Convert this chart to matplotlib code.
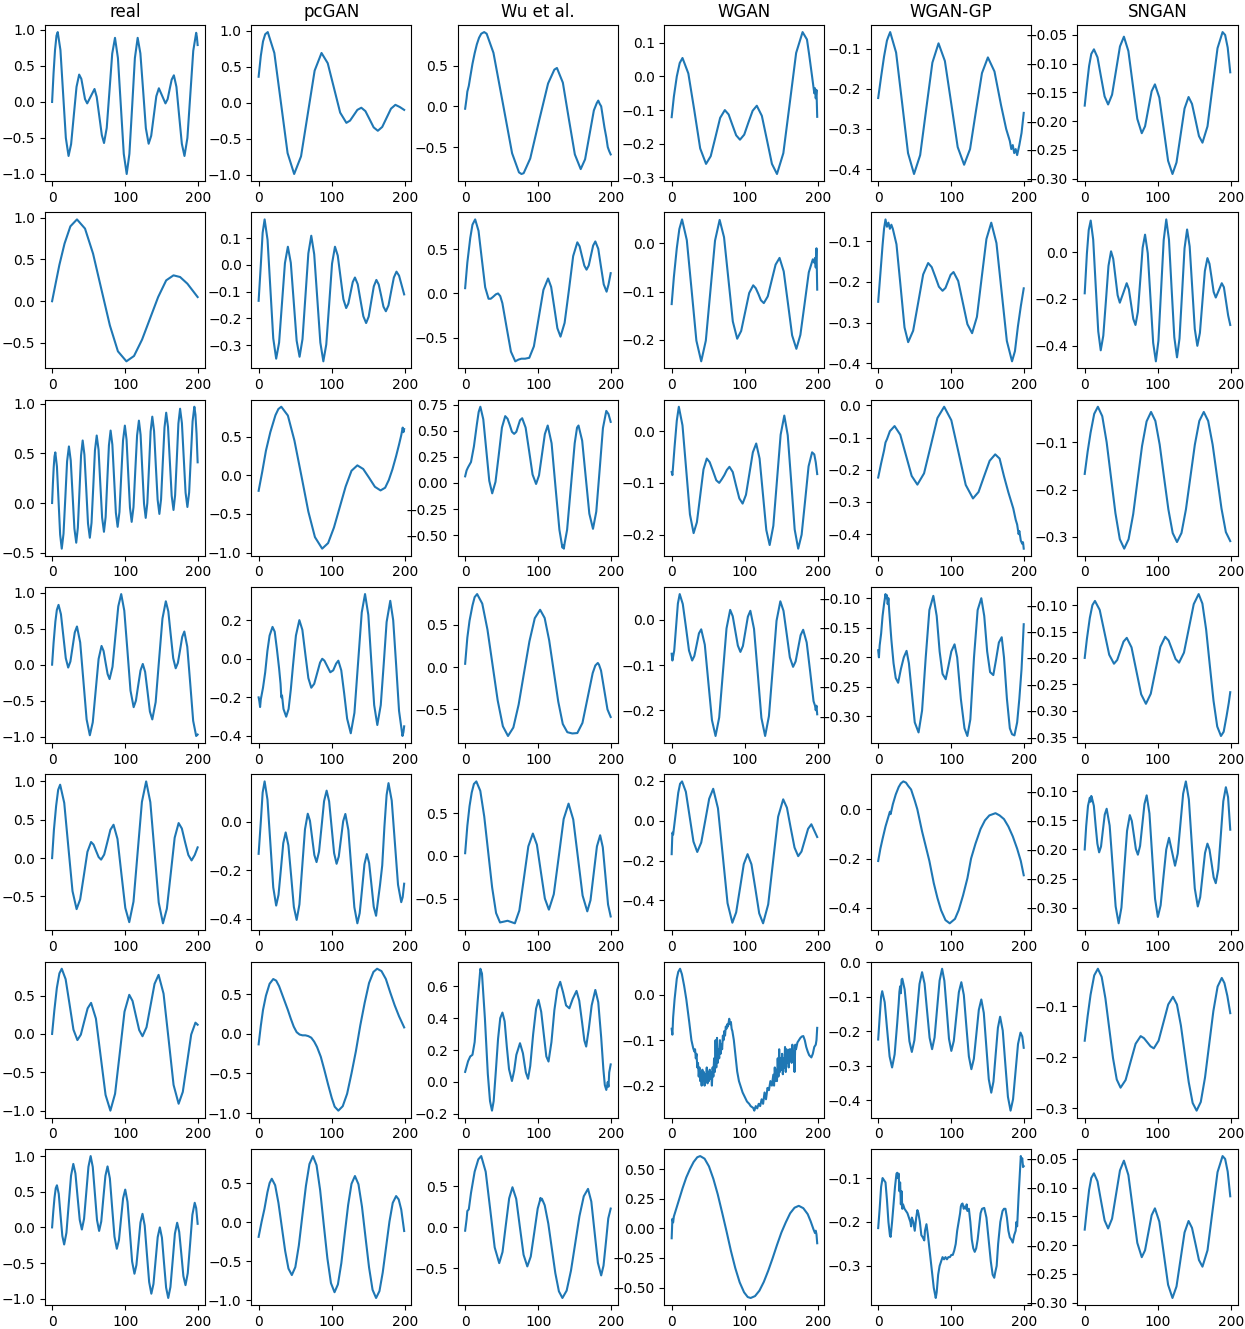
import matplotlib
matplotlib.use("Agg")
import matplotlib.pyplot as plt
from matplotlib.ticker import MaxNLocator

# (x, y) points; rows 1..7, one list per column
real1 = [(0,0.0),(2,0.40),(4,0.72),(6,0.92),(7.7,0.97),(11.4,0.72),(15.1,0.11),(18.8,-0.50),(22.5,-0.75),(26,-0.585),(29.7,-0.185),(33.4,0.21),(37,0.38),(40,0.32),(42.5,0.18),(45,0.04),(48,-0.02),(53,0.08),(58,0.18),(61,0.07),(64.5,-0.195),(68,-0.46),(71,-0.57),(74.7,-0.36),(78.5,0.16),(82.2,0.67),(86,0.89),(90,0.61),(94,-0.055),(98,-0.72),(102,-1.0),(105.7,-0.72),(109.5,-0.055),(113.2,0.61),(117,0.89),(120.7,0.675),(124.5,0.155),(128.2,-0.365),(132,-0.58),(135.5,-0.47),(139,-0.195),(142.5,0.08),(146,0.19),(150.5,0.085),(155,-0.02),(158,0.04),(160.7,0.175),(163.5,0.31),(166.5,0.37),(170,0.21),(173.7,-0.19),(177.4,-0.58),(181,-0.75),(185,-0.50),(189,0.105),(193,0.71),(197,0.96),(198,0.9),(199,0.79)]
pcgan1 = [(0,0.36),(3,0.65),(6,0.85),(9,0.95),(12.5,0.98),(21.5,0.69),(30.5,0.0),(39.6,-0.70),(48.6,-0.99),(58,-0.745),(67.3,-0.15),(76.6,0.445),(86,0.69),(94.5,0.548),(103,0.205),(111.5,-0.138),(120,-0.28),(125,-0.249),(130,-0.175),(135,-0.10),(140.4,-0.07),(146,-0.117),(151.7,-0.23),(157.3,-0.343),(163,-0.39),(169,-0.337),(175,-0.21),(181,-0.083),(187,-0.03),(193,-0.06),(199,-0.10)]
wu1 = [(0,-0.03),(2,0.1),(3,0.18),(5,0.25),(7,0.36),(10,0.52),(13,0.65),(16,0.76),(19,0.84),(22,0.89),(26,0.91),(29.4,0.89),(38.7,0.656),(51.5,0.04),(64.2,-0.576),(73.6,-0.81),(77,-0.83),(80,-0.82),(89,-0.64),(101,-0.18),(113.4,0.28),(122,0.45),(125.5,0.47),(133.6,0.29),(141.7,-0.15),(150,-0.59),(158,-0.77),(164,-0.65),(170,-0.35),(176,-0.05),(180,0.04),(182,0.07),(184,0.03),(186,0.0),(190.5,-0.26),(193,-0.38),(195,-0.50),(197,-0.55),(199,-0.59)]
wgan1 = [(0,-0.121),(3,-0.06),(7,0.0),(11,0.04),(14.8,0.055),(22.8,0.009),(30.9,-0.10),(39,-0.214),(47,-0.26),(53.4,-0.237),(59.9,-0.18),(66.3,-0.123),(72.7,-0.10),(77.9,-0.113),(83,-0.144),(88.2,-0.175),(93.4,-0.188),(99.2,-0.173),(104.9,-0.137),(110.7,-0.102),(116.4,-0.087),(123.3,-0.117),(130.2,-0.188),(137.1,-0.26),(144,-0.29),(152.7,-0.228),(161.5,-0.079),(170.2,0.07),(179,0.132),(185,0.11),(188,0.065),(192,0.0),(195,-0.05),(196,-0.035),(197,-0.065),(198,-0.04),(199,-0.12)]
wgangp1 = [(0,-0.223),(4,-0.17),(8,-0.12),(10,-0.10),(12,-0.08),(14,-0.07),(16.4,-0.059),(24.5,-0.11),(32.7,-0.235),(40.8,-0.36),(49,-0.412),(57.4,-0.365),(65.7,-0.25),(74.1,-0.135),(82.5,-0.087),(91.2,-0.131),(100,-0.238),(108.7,-0.345),(117.5,-0.389),(125.6,-0.35),(133.7,-0.255),(141.9,-0.161),(150,-0.122),(159,-0.157),(168,-0.241),(175,-0.30),(180,-0.33),(182,-0.35),(184,-0.34),(186,-0.36),(188,-0.35),(190,-0.365),(193,-0.34),(196,-0.31),(199,-0.26)]
sngan1 = [(0,-0.173),(3,-0.137),(6,-0.104),(9,-0.083),(12.6,-0.075),(17.5,-0.089),(22.3,-0.123),(27.2,-0.157),(32,-0.171),(37.4,-0.154),(42.8,-0.112),(48.2,-0.07),(53.6,-0.053),(59.7,-0.078),(65.8,-0.137),(71.9,-0.196),(78,-0.221),(82.5,-0.209),(87,-0.1785),(91.5,-0.148),(96,-0.136),(102,-0.159),(108,-0.214),(114,-0.269),(120,-0.292),(125.5,-0.272),(131,-0.225),(136.5,-0.178),(142,-0.158),(146.7,-0.17),(151.5,-0.198),(156.2,-0.226),(161,-0.2375),(167.9,-0.209),(174.7,-0.141),(181.6,-0.073),(188.5,-0.045),(192,-0.05),(195.5,-0.072),(199,-0.115)]

real2 = [(0,0.0),(5,0.22),(10,0.437),(17,0.69),(25,0.897),(34,0.98),(45,0.87),(56,0.57),(68,0.12),(79,-0.29),(90,-0.60),(101.6,-0.72),(112,-0.656),(123,-0.46),(134,-0.205),(145,0.05),(156,0.25),(166,0.31),(175,0.29),(185,0.21),(192,0.13),(199,0.05)]
pcgan2 = [(0,-0.134),(3,0.0),(5.5,0.12),(8.2,0.17),(12.2,0.094),(16.1,-0.09),(20,-0.274),(24,-0.35),(28,-0.29),(32,-0.141),(36,0.007),(40,0.068),(44,0.008),(48,-0.137),(52,-0.283),(56,-0.343),(60,-0.277),(64,-0.117),(68,0.043),(72,0.109),(76,0.04),(80.2,-0.125),(84.4,-0.29),(88.5,-0.36),(92.5,-0.297),(96.5,-0.146),(100.4,0.005),(104.4,0.068),(108.2,0.035),(112,-0.046),(115.9,-0.128),(119.7,-0.161),(122.7,-0.144),(125.7,-0.104),(128.7,-0.064),(131.7,-0.047),(135.5,-0.072),(139.3,-0.132),(143.2,-0.192),(147,-0.217),(150.5,-0.193),(154,-0.136),(157.5,-0.08),(161,-0.056),(164.2,-0.073),(167.5,-0.114),(170.7,-0.156),(174,-0.173),(177.6,-0.151),(181.2,-0.099),(184.9,-0.047),(188.5,-0.025),(192,-0.04),(196,-0.08),(199,-0.11)]
wu2 = [(0,0.06),(3,0.35),(7,0.63),(10,0.78),(13.7,0.84),(18.3,0.71),(22.8,0.39),(27.4,0.07),(32,-0.06),(35,-0.06),(38,-0.04),(42,-0.01),(45,0.0),(48,-0.03),(50.9,-0.11),(56.7,-0.385),(62.6,-0.66),(68.5,-0.77),(73,-0.75),(77,-0.74),(82,-0.74),(87.7,-0.73),(94,-0.60),(100.5,-0.28),(107,0.04),(113.4,0.17),(117.6,0.074),(121.9,-0.16),(126.1,-0.394),(130.4,-0.49),(136,-0.334),(142,0.045),(147.7,0.424),(153.4,0.58),(156.5,0.535),(159.7,0.425),(163,0.315),(166,0.27),(169,0.317),(172,0.43),(175,0.543),(178,0.59),(182,0.507),(185.7,0.305),(189.5,0.103),(193.4,0.02),(196,0.10),(199,0.23)]
wgan2 = [(0,-0.126),(3,-0.07),(7,-0.01),(10.5,0.03),(14.2,0.05),(20.7,0.007),(27.3,-0.0975),(33.8,-0.202),(40.4,-0.245),(46.7,-0.202),(53,-0.098),(59.3,0.006),(65.6,0.049),(71.6,0.013),(77.6,-0.0745),(83.6,-0.162),(89.6,-0.198),(95,-0.182),(100.5,-0.1425),(106,-0.103),(111.5,-0.087),(115,-0.093),(118.7,-0.1055),(122,-0.118),(126,-0.124),(131.4,-0.11),(136.7,-0.077),(142.1,-0.044),(147.5,-0.03),(153.2,-0.058),(159,-0.1245),(164.7,-0.191),(170.5,-0.219),(176,-0.19),(181.7,-0.126),(187.5,-0.06),(193,-0.033),(195,-0.04),(196,-0.03),(197,-0.05),(198,-0.01),(199,-0.096)]
wgangp2 = [(0,-0.249),(3,-0.18),(6,-0.11),(8,-0.07),(10,-0.047),(12,-0.065),(14,-0.055),(16,-0.07),(18,-0.06),(20,-0.07),(25,-0.108),(30.5,-0.209),(36,-0.312),(41,-0.348),(47.8,-0.32),(54.7,-0.251),(61.5,-0.182),(68.3,-0.154),(73.2,-0.164),(78.2,-0.188),(83,-0.212),(88,-0.222),(92,-0.215),(95.5,-0.199),(99,-0.183),(103,-0.176),(109.4,-0.198),(115.7,-0.251),(122,-0.304),(128.4,-0.326),(135,-0.286),(141.5,-0.19),(148,-0.095),(154.6,-0.055),(161.7,-0.105),(168.8,-0.225),(175.9,-0.345),(183,-0.395),(187,-0.37),(191,-0.31),(195,-0.26),(199,-0.216)]
sngan2 = [(0,-0.176),(3,-0.006),(5.5,0.094),(8.2,0.134),(11.6,0.053),(15,-0.142),(18.5,-0.338),(21.9,-0.419),(25.4,-0.357),(29,-0.208),(32.5,-0.059),(36,0.003),(39,-0.029),(42,-0.1065),(45,-0.184),(48,-0.216),(52.7,-0.175),(57.4,-0.133),(60.4,-0.159),(63.4,-0.222),(66.4,-0.285),(69.4,-0.311),(72.7,-0.255),(76,-0.118),(79.2,0.018),(82.5,0.074),(86.2,-0.005),(89.9,-0.196),(93.6,-0.387),(97.3,-0.466),(100.8,-0.378),(104.4,-0.1635),(108,0.051),(111.5,0.139),(115.2,0.053),(118.8,-0.155),(122.5,-0.363),(126.2,-0.449),(129.6,-0.369),(133.1,-0.1765),(136.5,0.016),(140,0.096),(143.5,0.024),(147,-0.152),(150.5,-0.328),(154,-0.40),(157.5,-0.345),(160.9,-0.213),(164.3,-0.081),(167.8,-0.026),(170.6,-0.05),(173.5,-0.11),(176.3,-0.17),(179.2,-0.194),(183.3,-0.1635),(187.4,-0.133),(190.3,-0.15),(193.2,-0.21),(196.1,-0.27),(199,-0.311)]

real3 = [(0,0.0),(1.1,0.195),(2.2,0.36),(3.3,0.47),(4.4,0.51),(6.6,0.368),(8.8,0.025),(11,-0.318),(13.2,-0.46),(15.6,-0.31),(18.1,0.055),(20.5,0.42),(23,0.57),(25.5,0.428),(28,0.085),(30.5,-0.258),(33,-0.40),(35.2,-0.25),(37.4,0.115),(39.6,0.48),(41.8,0.63),(44.2,0.487),(46.7,0.14),(49.1,-0.207),(51.6,-0.35),(53.9,-0.2),(56.3,0.165),(58.6,0.53),(61,0.68),(63.5,0.538),(65.9,0.195),(68.4,-0.148),(70.9,-0.29),(73.2,-0.141),(75.4,0.22),(77.7,0.581),(80,0.73),(82.4,0.588),(84.8,0.245),(87.2,-0.098),(89.6,-0.24),(92.1,-0.091),(94.5,0.27),(97,0.631),(99.5,0.78),(101.8,0.638),(104.1,0.295),(106.5,-0.048),(108.8,-0.19),(111.3,-0.041),(113.7,0.32),(116.2,0.681),(118.7,0.83),(121,0.687),(123.3,0.34),(125.7,-0.007),(128,-0.15),(130.2,-0.001),(132.5,0.36),(134.7,0.721),(137,0.87),(139.4,0.727),(141.8,0.38),(144.3,0.033),(146.7,-0.11),(149,0.039),(151.3,0.40),(153.7,0.761),(156,0.91),(158.5,0.767),(161,0.42),(163.5,0.073),(166,-0.07),(168.2,0.079),(170.5,0.44),(172.7,0.801),(175,0.95),(177.5,0.805),(180,0.455),(182.5,0.105),(185,-0.04),(187.4,0.107),(189.7,0.465),(192.1,0.823),(194.5,0.97),(196,0.89),(197.5,0.70),(199,0.41)]
pcgan3 = [(0,-0.2),(5,0.05),(10,0.32),(16,0.56),(23,0.78),(27,0.86),(31,0.89),(40,0.776),(49,0.45),(59,-0.03),(68,-0.47),(77,-0.80),(86.9,-0.95),(95,-0.878),(103,-0.676),(111,-0.41),(119,-0.144),(127,0.06),(135,0.13),(143,0.083),(151,-0.03),(159,-0.148),(166.7,-0.195),(173,-0.16),(178,-0.06),(183,0.08),(188,0.25),(192,0.40),(195,0.52),(197,0.62),(198,0.56),(199,0.6)]
wu3 = [(0,0.063),(2,0.12),(4,0.15),(8,0.2),(12,0.35),(16,0.56),(18.5,0.68),(20.8,0.73),(24.8,0.61),(28.9,0.315),(33,0.02),(37,-0.10),(41.5,0.01),(46,0.27),(50.3,0.53),(54.8,0.64),(58,0.615),(61,0.555),(64,0.49),(67,0.47),(70,0.49),(72.5,0.545),(75,0.60),(78,0.62),(82.7,0.53),(87.5,0.305),(92.2,0.08),(97,-0.01),(101,0.072),(105,0.27),(109,0.468),(112.9,0.55),(118.2,0.38),(123.5,-0.035),(128.9,-0.45),(132,-0.58),(133,-0.62),(134.2,-0.6),(135,-0.63),(136,-0.58),(139.4,-0.45),(144.6,-0.035),(149.8,0.38),(153,0.53),(155,0.55),(160,0.405),(164.9,0.055),(169.8,-0.295),(174.8,-0.44),(179.3,-0.275),(183.9,0.125),(188.4,0.525),(193,0.69),(196,0.66),(199,0.585)]
wgan3 = [(0,-0.079),(1,-0.085),(4,-0.03),(7,0.02),(9.8,0.047),(14.8,0.011),(19.9,-0.075),(25,-0.161),(30,-0.197),(34.5,-0.176),(39,-0.125),(43.5,-0.074),(48,-0.053),(52,-0.06),(56.5,-0.077),(61,-0.095),(65,-0.10),(68.5,-0.093),(72,-0.085),(75.5,-0.075),(79,-0.069),(83.5,-0.079),(88,-0.105),(92.5,-0.13),(97,-0.14),(101.6,-0.123),(106.3,-0.082),(111,-0.041),(115.6,-0.024),(120.2,-0.053),(124.8,-0.122),(129.4,-0.191),(134,-0.22),(139,-0.183),(144,-0.095),(149,-0.007),(154,0.03),(158.7,-0.008),(163.5,-0.0985),(168.2,-0.19),(173,-0.227),(177.7,-0.2),(182.5,-0.134),(187.2,-0.068),(192,-0.041),(195,-0.045),(197,-0.06),(199,-0.083)]
wgangp3 = [(0,-0.224),(4,-0.18),(8,-0.14),(10,-0.115),(12,-0.105),(16,-0.08),(22.4,-0.064),(30.2,-0.091),(38,-0.155),(45.8,-0.219),(53.6,-0.246),(62.7,-0.211),(71.9,-0.125),(81,-0.039),(90.2,-0.004),(100,-0.046),(109.9,-0.1465),(119.7,-0.247),(129.6,-0.289),(137.2,-0.269),(144.8,-0.22),(152.4,-0.172),(160,-0.152),(166,-0.165),(172,-0.22),(178,-0.27),(184.7,-0.32),(188,-0.355),(190,-0.37),(192,-0.40),(193,-0.39),(195,-0.42),(197,-0.43),(198,-0.425),(199,-0.445)]
sngan3 = [(0,-0.167),(4,-0.12),(8,-0.08),(13,-0.04),(18,-0.025),(24,-0.045),(30,-0.1),(36,-0.175),(42,-0.25),(48,-0.305),(54,-0.325),(60,-0.305),(66.3,-0.252),(72.3,-0.18),(78.4,-0.108),(84.6,-0.056),(90.7,-0.036),(96.6,-0.055),(102.5,-0.105),(108.4,-0.1735),(114.4,-0.242),(120.3,-0.292),(126.2,-0.311),(132.3,-0.292),(138.4,-0.242),(144.5,-0.1735),(150.6,-0.105),(156.7,-0.055),(162.8,-0.036),(168.8,-0.055),(174.9,-0.105),(180.9,-0.172),(187,-0.24),(193,-0.29),(199,-0.309)]

real4 = [(0,0.0),(2,0.3),(4.5,0.6),(6.5,0.76),(8.8,0.83),(12.1,0.70),(15.4,0.395),(18.7,0.09),(22,-0.04),(25,0.043),(28,0.245),(31,0.447),(34,0.53),(38.4,0.31),(42.8,-0.225),(47.2,-0.76),(51.6,-0.98),(55.6,-0.80),(59.6,-0.36),(63.6,0.08),(67.6,0.26),(70.4,0.19),(73.1,0.03),(75.9,-0.13),(78.6,-0.2),(82.6,-0.03),(86.5,0.39),(90.5,0.81),(94.5,0.98),(98.7,0.75),(103,0.195),(107.2,-0.36),(111.5,-0.59),(114.6,-0.50),(117.7,-0.29),(120.9,-0.08),(124,0.01),(127.2,-0.10),(130.5,-0.375),(133.7,-0.65),(137,-0.76),(141.6,-0.52),(146.2,0.06),(150.9,0.64),(155.5,0.88),(158.9,0.74),(162.2,0.415),(165.6,0.09),(169,-0.05),(172,0.025),(175,0.205),(177.9,0.385),(180.8,0.46),(184.8,0.25),(188.9,-0.265),(192.9,-0.78),(197,-0.99),(199,-0.97)]
pcgan4 = [(0,-0.2),(1,-0.22),(2,-0.25),(3,-0.21),(6,-0.15),(9,-0.07),(12,0.04),(15,0.12),(19,0.165),(22,0.14),(25,0.05),(28,-0.05),(30,-0.13),(31,-0.2),(32,-0.19),(34,-0.26),(37.7,-0.30),(41,-0.26),(44,-0.16),(47,-0.035),(51,0.12),(55.7,0.20),(59.8,0.15),(64,0.02),(68,-0.10),(72,-0.15),(76,-0.13),(80,-0.075),(84,-0.02),(87,0.0),(90,-0.01),(94,-0.04),(98,-0.07),(102,-0.06),(106,-0.025),(109,-0.01),(113,-0.06),(117,-0.18),(121,-0.31),(126,-0.386),(131,-0.28),(136,-0.02),(141,0.24),(145.5,0.335),(150,0.227),(154,-0.01),(158,-0.24),(162.3,-0.343),(167,-0.24),(171,-0.03),(175,0.19),(180,0.30),(184,0.2),(188,-0.03),(192,-0.27),(196.7,-0.40),(198,-0.38),(199,-0.35)]
wu4 = [(0,0.04),(3,0.35),(6,0.55),(10,0.73),(13,0.83),(16.4,0.866),(23.4,0.753),(30.5,0.446),(37.5,0.026),(44.5,-0.394),(51.6,-0.70),(58.6,-0.815),(65.9,-0.715),(73.2,-0.441),(80.5,-0.067),(87.9,0.306),(95.2,0.58),(102.5,0.68),(108.7,0.583),(114.9,0.318),(121.1,-0.045),(127.3,-0.408),(133.5,-0.673),(139.7,-0.77),(146.5,-0.785),(153.4,-0.78),(160.4,-0.66),(167.4,-0.365),(174.4,-0.07),(178,0.02),(181.4,0.05),(183,0.03),(185.8,-0.04),(190.2,-0.27),(194.6,-0.5),(197,-0.55),(199,-0.59)]
wgan4 = [(0,-0.075),(1,-0.09),(3.5,-0.068),(6,-0.016),(8.5,0.036),(11,0.057),(15.2,0.035),(19.5,-0.016),(23.7,-0.068),(28,-0.09),(31,-0.08),(34.2,-0.055),(37.3,-0.03),(40.4,-0.021),(45.3,-0.055),(50.2,-0.139),(55.1,-0.222),(60,-0.257),(65,-0.216),(70,-0.1175),(75,-0.019),(80,0.022),(83.5,0.008),(87,-0.0245),(90.5,-0.057),(94,-0.071),(97.4,-0.058),(100.8,-0.0255),(104.2,0.007),(107.6,0.02),(112.6,-0.02),(117.7,-0.1185),(122.7,-0.217),(127.8,-0.257),(133,-0.213),(138.2,-0.108),(143.4,-0.002),(148.6,0.041),(152.9,0.02),(157.3,-0.0315),(161.6,-0.083),(166,-0.104),(169.5,-0.092),(172.9,-0.063),(176.3,-0.034),(179.8,-0.022),(184.6,-0.05),(189.4,-0.115),(194,-0.18),(196,-0.19),(197,-0.20),(198,-0.19),(199,-0.209)]
wgangp4 = [(0,-0.188),(1,-0.2),(2,-0.18),(4,-0.16),(6,-0.13),(8,-0.11),(10,-0.093),(11,-0.1),(12,-0.095),(13,-0.11),(14,-0.1),(15,-0.12),(18,-0.17),(21,-0.21),(24,-0.235),(27.3,-0.243),(31,-0.22),(35,-0.2),(38.8,-0.189),(42,-0.21),(46,-0.26),(50,-0.31),(55.2,-0.327),(60,-0.29),(65,-0.2),(70,-0.12),(75.4,-0.096),(80,-0.13),(84,-0.19),(88,-0.228),(92.3,-0.237),(96,-0.215),(100,-0.19),(104.4,-0.178),(108,-0.2),(113,-0.27),(118,-0.32),(121.9,-0.333),(126,-0.305),(131,-0.2),(136,-0.12),(141,-0.10),(145,-0.13),(149,-0.19),(153,-0.225),(157.4,-0.23),(161,-0.205),(165,-0.175),(168.9,-0.166),(172,-0.2),(176,-0.27),(180,-0.32),(183,-0.33),(186.3,-0.332),(190,-0.31),(193,-0.27),(196,-0.22),(198,-0.17),(199,-0.144)]
sngan4 = [(0,-0.2),(3,-0.164),(7,-0.124),(10.5,-0.1),(14,-0.092),(20.5,-0.109),(27,-0.1515),(33.5,-0.194),(40,-0.211),(44.4,-0.204),(48.7,-0.1865),(53.1,-0.169),(57.5,-0.162),(64,-0.18),(70.6,-0.2245),(77.2,-0.269),(83.7,-0.287),(90.3,-0.268),(96.8,-0.2235),(103.4,-0.179),(110,-0.16),(114.7,-0.167),(119.5,-0.1845),(124.2,-0.202),(129,-0.209),(135.7,-0.19),(142.4,-0.144),(149.1,-0.098),(155.8,-0.079),(160.9,-0.097),(166,-0.146),(171,-0.2135),(176.1,-0.281),(181.2,-0.33),(186.3,-0.348),(190,-0.34),(194,-0.31),(197,-0.285),(199,-0.265)]

real5 = [(0,0.0),(2.5,0.37),(5.5,0.68),(8.3,0.89),(11,0.957),(16.6,0.72),(22.2,0.146),(27.9,-0.43),(33.5,-0.665),(38.4,-0.537),(43.4,-0.2275),(48.3,0.082),(53.3,0.21),(56.7,0.176),(60.1,0.095),(63.6,0.014),(67,-0.02),(71.2,0.046),(75.5,0.2075),(79.7,0.369),(84,0.435),(89.4,0.25),(94.7,-0.2),(100.1,-0.65),(105.5,-0.835),(111.3,-0.567),(117,0.08),(122.8,0.732),(128.6,1.0),(134.3,0.73),(140.1,0.075),(145.8,-0.58),(151.6,-0.85),(156.9,-0.66),(162.3,-0.196),(167.6,0.266),(173,0.457),(177.4,0.386),(181.8,0.21),(186.3,0.041),(190.7,-0.03),(195,0.04),(199,0.14)]
pcgan5 = [(0,-0.132),(3,0.0),(5.5,0.12),(8.2,0.166),(12.1,0.091),(16.1,-0.09),(20,-0.27),(24,-0.345),(27.2,-0.301),(30.5,-0.1945),(33.7,-0.088),(37,-0.044),(40.7,-0.097),(44.5,-0.224),(48.2,-0.351),(52,-0.404),(55.8,-0.34),(59.6,-0.1855),(63.4,-0.031),(67.2,0.033),(70.2,0.004),(73.2,-0.0665),(76.2,-0.137),(79.2,-0.166),(82.6,-0.123),(86.1,-0.019),(89.5,0.085),(93,0.128),(96.4,0.084),(99.8,-0.0225),(103.2,-0.129),(106.6,-0.173),(109.6,-0.143),(112.6,-0.0705),(115.6,0.002),(118.6,0.032),(122.7,-0.034),(126.8,-0.193),(130.9,-0.352),(135,-0.418),(138.2,-0.376),(141.5,-0.2755),(144.7,-0.175),(148,-0.133),(151.1,-0.17),(154.3,-0.26),(157.4,-0.35),(160.6,-0.387),(163,-0.33),(166,-0.26),(169,-0.18),(172,-0.02),(175,0.11),(177.6,0.159),(182,0.087),(186.3,-0.086),(190.6,-0.259),(195,-0.331),(197,-0.31),(199,-0.255)]
wu5 = [(0,0.03),(3,0.35),(6,0.58),(9,0.74),(12,0.84),(15.3,0.87),(20.7,0.76),(26.1,0.46),(31.5,0.045),(36.9,-0.37),(42.3,-0.67),(47.7,-0.78),(53,-0.77),(58,-0.76),(63,-0.775),(68,-0.79),(74.1,-0.64),(80.3,-0.265),(86.4,0.11),(92.6,0.26),(98.1,0.13),(103.5,-0.185),(109,-0.5),(114.5,-0.63),(121.2,-0.45),(128,-0.01),(134.7,0.43),(141.4,0.61),(147.8,0.425),(154.2,-0.02),(160.6,-0.465),(167,-0.65),(171.4,-0.52),(175.8,-0.205),(180.2,0.11),(184.6,0.24),(188.2,0.1),(191.8,-0.235),(195.4,-0.57),(199,-0.71)]
wgan5 = [(0,-0.168),(1,-0.06),(2,-0.07),(5,0.02),(9,0.14),(11.5,0.185),(14.2,0.197),(19.4,0.145),(24.6,0.02),(29.8,-0.105),(35,-0.157),(40.4,-0.11),(45.9,0.0),(51.3,0.11),(56.8,0.16),(63.3,0.062),(69.9,-0.176),(76.4,-0.414),(83,-0.512),(88.2,-0.46),(93.4,-0.34),(98.6,-0.218),(103.8,-0.168),(109.1,-0.219),(114.4,-0.34),(119.7,-0.465),(125,-0.515),(132,-0.42),(138.8,-0.20),(145.6,0.02),(152.5,0.107),(157.6,0.065),(162.7,-0.035),(168,-0.135),(173,-0.178),(177.5,-0.155),(182,-0.098),(186.5,-0.041),(191,-0.018),(195,-0.05),(199,-0.082)]
wgangp5 = [(0,-0.21),(3,-0.16),(6,-0.12),(10,-0.07),(14,-0.03),(16,-0.01),(17,-0.02),(20,0.02),(24,0.06),(28,0.09),(31,0.105),(34.4,0.113),(38,0.108),(41,0.095),(45,0.08),(50,0.035),(53.5,0.0),(60,-0.09),(65,-0.15),(70,-0.21),(76,-0.30),(81,-0.36),(86,-0.41),(92,-0.45),(97.8,-0.463),(105,-0.445),(110,-0.41),(116,-0.35),(122,-0.28),(127,-0.2),(133,-0.14),(140,-0.08),(146,-0.045),(152,-0.025),(160.4,-0.016),(166,-0.025),(172,-0.04),(178,-0.07),(184,-0.11),(190,-0.16),(195,-0.21),(199,-0.268)]
sngan5 = [(0,-0.2),(2,-0.16),(4.5,-0.125),(7,-0.111),(8,-0.118),(9,-0.108),(10,-0.112),(12.5,-0.125),(15,-0.16),(17.3,-0.19),(19.7,-0.205),(22.3,-0.195),(24.8,-0.1675),(27.4,-0.14),(30,-0.13),(34.1,-0.159),(38.2,-0.2285),(42.3,-0.298),(46.4,-0.327),(50.2,-0.3),(54,-0.234),(57.9,-0.168),(61.7,-0.141),(64.4,-0.151),(67.2,-0.175),(69.9,-0.199),(72.7,-0.209),(75.7,-0.194),(78.7,-0.158),(81.7,-0.122),(84.7,-0.107),(88.5,-0.138),(92.3,-0.2115),(96.2,-0.285),(100,-0.316),(103.8,-0.296),(107.6,-0.248),(111.5,-0.2),(115.3,-0.18),(119.4,-0.204),(123.5,-0.228),(127.2,-0.207),(130.9,-0.1555),(134.6,-0.104),(138.3,-0.083),(142.4,-0.114),(146.4,-0.19),(150.5,-0.267),(154.6,-0.298),(157.9,-0.282),(161.2,-0.244),(164.5,-0.206),(167.8,-0.19),(170.6,-0.2),(173.5,-0.224),(176.3,-0.248),(179.2,-0.258),(182.6,-0.234),(186.1,-0.1755),(189.5,-0.117),(193,-0.093),(196,-0.11),(199,-0.166)]

real6 = [(0,0.0),(3,0.3),(6.5,0.6),(10,0.79),(13.2,0.85),(18.5,0.714),(23.9,0.385),(29.2,0.056),(34.6,-0.08),(39.3,-0.009),(43.9,0.1625),(48.6,0.334),(53.3,0.405),(59.9,0.2),(66.5,-0.2975),(73.1,-0.795),(79.7,-1.0),(86.1,-0.78),(92.6,-0.245),(99,0.29),(105.5,0.51),(110,0.43),(114.5,0.24),(119.1,0.05),(123.6,-0.03),(129.1,0.087),(134.6,0.37),(140.1,0.653),(145.6,0.77),(152.4,0.525),(159.3,-0.07),(166.1,-0.665),(173,-0.91),(178.7,-0.756),(184.5,-0.38),(190.2,-0.008),(196,0.147),(199,0.12)]
pcgan6 = [(0,-0.134),(3,0.1),(6,0.3),(10,0.48),(15,0.63),(20,0.69),(24,0.67),(28,0.6),(32,0.5),(36,0.40),(40,0.30),(44,0.19),(48,0.09),(52,0.02),(56,-0.01),(60,-0.02),(64,-0.02),(68,-0.03),(72,-0.05),(76,-0.1),(80,-0.17),(85,-0.29),(90,-0.46),(95,-0.64),(100,-0.81),(104,-0.92),(109,-0.97),(115,-0.914),(121,-0.757),(127,-0.50),(133,-0.22),(139,0.105),(145,0.39),(151,0.64),(157,0.78),(162,0.82),(168,0.79),(174,0.69),(180,0.52),(186,0.36),(192,0.22),(196,0.14),(199,0.08)]
wu6 = [(0,0.063),(4,0.13),(7,0.16),(10,0.17),(13,0.25),(17,0.5),(20.8,0.71),(23,0.68),(27,0.4),(31,0.05),(34,-0.12),(36.7,-0.18),(39,-0.12),(42,0.07),(45,0.27),(48,0.40),(51,0.435),(54,0.38),(57,0.22),(60,0.08),(64,0.006),(67,0.07),(70,0.17),(75,0.243),(79,0.18),(83,0.06),(86,0.02),(89,0.1),(93,0.3),(97,0.46),(100.3,0.515),(104,0.44),(108,0.28),(111,0.16),(114,0.128),(118,0.25),(122,0.45),(126,0.58),(130,0.628),(134,0.56),(138,0.48),(142.5,0.462),(147,0.52),(152.3,0.571),(156,0.51),(160,0.37),(163,0.26),(165.5,0.222),(169,0.33),(173,0.48),(178,0.577),(182,0.5),(186,0.28),(189,0.08),(191,-0.02),(193,-0.05),(195,0.0),(196,-0.03),(197,0.06),(199,0.11)]
wgan6 = [(0,-0.075),(1,-0.088),(2,-0.05),(4,-0.01),(7,0.035),(9,0.05),(11.5,0.057),(14,0.045),(17,0.02),(20,-0.01),(24,-0.06),(27,-0.1),(29.5,-0.118),(31,-0.125),(32,-0.12),(33,-0.14),(34,-0.13),(35,-0.16),(36,-0.15),(37,-0.18),(38,-0.16),(39,-0.19),(40,-0.17),(41,-0.2),(42,-0.165),(43,-0.19),(44,-0.17),(45,-0.2),(46,-0.175),(47,-0.185),(48,-0.16),(49,-0.195),(50,-0.17),(51,-0.19),(52,-0.165),(53,-0.185),(54,-0.17),(55,-0.2),(56,-0.16),(57,-0.18),(58,-0.14),(59,-0.17),(60,-0.1),(61,-0.16),(62,-0.095),(63,-0.15),(64,-0.12),(65,-0.14),(66,-0.1),(67,-0.13),(68,-0.11),(69,-0.12),(70,-0.09),(71,-0.1),(72,-0.08),(73,-0.09),(74,-0.07),(75,-0.075),(76,-0.065),(77,-0.07),(78.7,-0.053),(80,-0.065),(81,-0.06),(82,-0.075),(83,-0.08),(85,-0.1),(87,-0.13),(89.6,-0.169),(92,-0.19),(95,-0.205),(97,-0.215),(100.5,-0.227),(103,-0.235),(106,-0.24),(108,-0.245),(111.5,-0.249),(113,-0.255),(115,-0.245),(117,-0.25),(119,-0.24),(121,-0.245),(123,-0.23),(125,-0.24),(127,-0.215),(129,-0.23),(131,-0.205),(133,-0.21),(135,-0.19),(137,-0.2),(139,-0.176),(140,-0.2),(141,-0.16),(142,-0.19),(143,-0.165),(144,-0.19),(145,-0.14),(146,-0.18),(147,-0.12),(148,-0.17),(149,-0.14),(150,-0.165),(151,-0.13),(152,-0.175),(153,-0.14),(154,-0.16),(155,-0.115),(156,-0.17),(157,-0.12),(158,-0.15),(159,-0.13),(160,-0.16),(161,-0.12),(162,-0.145),(163,-0.12),(164,-0.15),(165,-0.11),(166,-0.13),(167,-0.125),(168,-0.17),(169,-0.11),(170,-0.12),(172,-0.105),(174,-0.1),(176,-0.095),(178,-0.092),(180,-0.091),(182,-0.1),(184,-0.115),(186,-0.125),(188,-0.133),(191,-0.138),(193,-0.13),(195,-0.115),(197,-0.11),(198,-0.1),(199,-0.073)]
wgangp6 = [(0,-0.224),(2,-0.16),(4,-0.1),(5.5,-0.084),(8.9,-0.116),(12.2,-0.1945),(15.6,-0.273),(19,-0.305),(22.5,-0.267),(26,-0.1765),(28,-0.12),(29,-0.086),(30,-0.07),(31,-0.09),(32,-0.05),(33,-0.048),(36.2,-0.079),(39.5,-0.154),(42.7,-0.229),(46,-0.26),(49.5,-0.226),(53,-0.1445),(56.5,-0.063),(60,-0.029),(63.4,-0.062),(66.8,-0.1405),(70.3,-0.219),(73.7,-0.252),(77.1,-0.218),(80.5,-0.1355),(84,-0.053),(87.4,-0.019),(90.5,-0.054),(93.7,-0.138),(96.8,-0.222),(100,-0.257),(103.4,-0.228),(106.8,-0.1575),(110.3,-0.087),(113.7,-0.058),(117.1,-0.095),(120.5,-0.184),(124,-0.273),(127.4,-0.31),(130.8,-0.28),(134.2,-0.209),(137.6,-0.138),(141,-0.108),(144.4,-0.147),(147.8,-0.243),(151.2,-0.339),(154.6,-0.378),(157.6,-0.346),(160.6,-0.268),(163.7,-0.19),(166.7,-0.158),(170.3,-0.198),(173.8,-0.294),(177.4,-0.39),(181,-0.43),(184.4,-0.397),(187.8,-0.317),(191.2,-0.237),(194.6,-0.204),(197,-0.215),(199,-0.248)]
sngan6 = [(0,-0.168),(4,-0.12),(8,-0.078),(13,-0.04),(18,-0.027),(23.2,-0.043),(28.3,-0.085),(33.5,-0.1435),(38.7,-0.202),(43.8,-0.244),(49,-0.26),(55.9,-0.245),(62.7,-0.2095),(69.6,-0.174),(76.5,-0.159),(81,-0.163),(85.5,-0.171),(90,-0.179),(94.5,-0.183),(101,-0.168),(107.6,-0.1325),(114.2,-0.097),(120.7,-0.082),(126.1,-0.097),(131.5,-0.138),(136.8,-0.1935),(142.2,-0.249),(147.6,-0.29),(153,-0.305),(158.7,-0.288),(164.5,-0.24),(170.2,-0.175),(175.9,-0.11),(181.7,-0.062),(187.4,-0.045),(191,-0.055),(195,-0.08),(199,-0.114)]

real7 = [(0,0.0),(1.6,0.22),(3.3,0.417),(5,0.55),(6.6,0.59),(9.1,0.47),(11.5,0.175),(14,-0.12),(16.5,-0.24),(19.6,-0.075),(22.7,0.325),(25.9,0.725),(29,0.89),(31.9,0.756),(34.8,0.43),(37.8,0.104),(40.7,-0.03),(43.7,0.12),(46.7,0.485),(49.7,0.85),(52.7,1.0),(55.6,0.847),(58.5,0.475),(61.4,0.103),(64.3,-0.05),(67.2,0.082),(70,0.4025),(72.9,0.723),(75.8,0.855),(79,0.686),(82.1,0.2775),(85.3,-0.131),(88.5,-0.3),(91.4,-0.179),(94.2,0.115),(97.1,0.409),(100,0.53),(103.1,0.358),(106.3,-0.06),(109.4,-0.478),(112.6,-0.65),(115.3,-0.527),(118.1,-0.23),(120.8,0.067),(123.6,0.19),(126.6,0.026),(129.6,-0.37),(132.7,-0.766),(135.7,-0.93),(138.6,-0.794),(141.5,-0.465),(144.4,-0.136),(147.3,0.0),(150.2,-0.145),(153,-0.495),(155.9,-0.845),(158.8,-0.99),(161.8,-0.836),(164.9,-0.4625),(167.9,-0.089),(171,0.065),(173.8,-0.063),(176.7,-0.3725),(179.5,-0.682),(182.4,-0.81),(185.5,-0.641),(188.7,-0.2325),(191.8,0.176),(195,0.345),(197,0.27),(199,0.05)]
pcgan7 = [(0,-0.19),(4,0.0),(8,0.17),(12,0.38),(15,0.5),(18,0.555),(22.6,0.472),(27.1,0.246),(31.7,-0.0625),(36.3,-0.371),(40.8,-0.597),(45.4,-0.68),(50.2,-0.578),(55,-0.30),(59.8,0.083),(64.7,0.465),(69.5,0.744),(74.3,0.846),(79.2,0.729),(84.1,0.41),(89,-0.027),(94,-0.464),(98.9,-0.783),(103.8,-0.9),(108.4,-0.8),(113.1,-0.527),(117.7,-0.155),(122.4,0.218),(127,0.49),(131.7,0.59),(136.5,0.485),(141.3,0.199),(146.1,-0.192),(151,-0.583),(155.8,-0.869),(160.6,-0.974),(165.2,-0.886),(169.7,-0.647),(174.3,-0.32),(178.9,0.006),(183.4,0.246),(188,0.333),(191.5,0.29),(195,0.16),(199,-0.115)]
wu7 = [(0,-0.04),(2,0.1),(3,0.2),(5,0.22),(8,0.42),(13,0.68),(18,0.83),(22,0.87),(28.1,0.679),(34.3,0.2175),(40.4,-0.244),(46.6,-0.435),(51.1,-0.3),(55.6,0.0275),(60.2,0.355),(64.7,0.49),(69.8,0.349),(74.8,0.0075),(79.9,-0.334),(85,-0.475),(89.7,-0.355),(94.5,-0.0625),(99.2,0.23),(102,0.32),(103,0.36),(104,0.33),(105,0.35),(108.8,0.27),(113.7,0.047),(118.5,-0.255),(123.3,-0.557),(128.2,-0.779),(133,-0.86),(138.8,-0.77),(144.7,-0.527),(150.5,-0.195),(156.3,0.138),(162.2,0.38),(168,0.47),(172.5,0.316),(177,-0.0575),(181.5,-0.431),(186,-0.585),(189.2,-0.466),(192.5,-0.18),(195.7,0.11),(199,0.23)]
wgan7 = [(0,-0.084),(1,0.08),(2,0.05),(3,0.1),(5,0.14),(8,0.2),(11,0.26),(15,0.34),(20,0.43),(25,0.5),(30,0.56),(35,0.6),(39,0.61),(45,0.588),(51,0.523),(57,0.418),(63,0.287),(69,0.133),(75,-0.025),(81,-0.19),(87,-0.336),(93,-0.456),(99,-0.54),(104,-0.58),(108,-0.588),(114,-0.572),(120,-0.526),(126,-0.452),(132,-0.358),(138,-0.253),(144,-0.141),(150,-0.036),(156,0.05),(162,0.127),(168,0.174),(173.8,0.19),(180,0.17),(186,0.12),(190,0.06),(194,-0.01),(196,-0.04),(197,-0.02),(198,-0.05),(199,-0.126)]
wgangp7 = [(0,-0.214),(2,-0.17),(4,-0.12),(6,-0.10),(8,-0.105),(10,-0.11),(12,-0.15),(14,-0.2),(16,-0.23),(17,-0.234),(19,-0.2),(21,-0.16),(23,-0.12),(25,-0.09),(26,-0.088),(27,-0.1),(28,-0.09),(29,-0.13),(30,-0.11),(31,-0.16),(32,-0.13),(33,-0.17),(34,-0.16),(36,-0.17),(38,-0.175),(40,-0.18),(42,-0.19),(44,-0.2),(45,-0.21),(46,-0.19),(48,-0.2),(50,-0.22),(52,-0.19),(53.6,-0.173),(55,-0.18),(57,-0.2),(59,-0.23),(61,-0.235),(63,-0.242),(64,-0.22),(66,-0.205),(68,-0.23),(70,-0.26),(72,-0.29),(74,-0.32),(76,-0.35),(78.7,-0.373),(80,-0.36),(82,-0.32),(84,-0.3),(86,-0.29),(88,-0.28),(90,-0.285),(92,-0.28),(94,-0.285),(96,-0.28),(98,-0.28),(100,-0.275),(102,-0.275),(104,-0.265),(106,-0.25),(108,-0.22),(110,-0.2),(112,-0.18),(113,-0.165),(114,-0.16),(115.3,-0.158),(117,-0.17),(118,-0.165),(120,-0.17),(121,-0.16),(122,-0.175),(124,-0.17),(126,-0.2),(128,-0.24),(130,-0.26),(132,-0.268),(134,-0.26),(136,-0.24),(138,-0.21),(140,-0.18),(142,-0.17),(145,-0.168),(148,-0.19),(151,-0.24),(154,-0.29),(156.5,-0.32),(158.7,-0.327),(160,-0.315),(162,-0.3),(164,-0.25),(167,-0.2),(170,-0.175),(172,-0.17),(174,-0.17),(176,-0.19),(178,-0.22),(180,-0.235),(182,-0.24),(184,-0.247),(186,-0.23),(188,-0.22),(189,-0.2),(190,-0.21),(192,-0.14),(194,-0.08),(195,-0.05),(196,-0.06),(197,-0.055),(198,-0.075),(199,-0.073)]
sngan7 = sngan1  # same sample shown again in the last row

titles = ["real", "pcGAN", "Wu et al.", "WGAN", "WGAN-GP", "SNGAN"]
rows = [
    [real1, pcgan1, wu1, wgan1, wgangp1, sngan1],
    [real2, pcgan2, wu2, wgan2, wgangp2, sngan2],
    [real3, pcgan3, wu3, wgan3, wgangp3, sngan3],
    [real4, pcgan4, wu4, wgan4, wgangp4, sngan4],
    [real5, pcgan5, wu5, wgan5, wgangp5, sngan5],
    [real6, pcgan6, wu6, wgan6, wgangp6, sngan6],
    [real7, pcgan7, wu7, wgan7, wgangp7, sngan7],
]

fig, axs = plt.subplots(7, 6, figsize=(12.45, 13.29), dpi=100)
for i, row in enumerate(rows):
    for j, pts in enumerate(row):
        ax = axs[i, j]
        xs, ys = zip(*pts)
        ax.plot(xs, ys, color="#1f77b4")
        ax.set_xticks([0, 100, 200])
        ax.yaxis.set_major_locator(MaxNLocator(nbins=6, steps=[1, 2, 2.5, 5, 10]))
        if i == 0:
            ax.set_title(titles[j])

fig.subplots_adjust(left=0.036, right=0.994, top=0.9812, bottom=0.018,
                    wspace=0.29, hspace=0.2)
fig.savefig("out.png")
